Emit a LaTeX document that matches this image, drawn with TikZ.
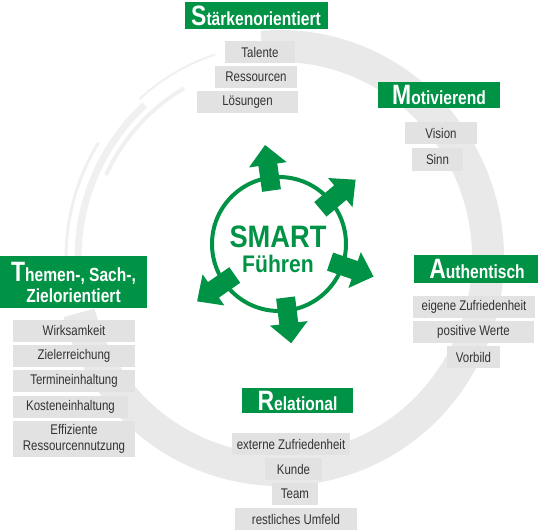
\documentclass[tikz,border=0pt]{standalone}
\usepackage{fontspec}
\setmainfont{Liberation Sans}[FakeStretch=0.82]
\newfontfamily\smartfont{Liberation Sans}[FakeStretch=0.88]
\usepackage{tikz}
\usetikzlibrary{calc}
\usetikzlibrary{arrows.meta,positioning}
\definecolor{smartgreen}{RGB}{0,146,69}
\definecolor{boxgray}{RGB}{226,226,226}
\definecolor{ringgray}{RGB}{233,233,233}
\definecolor{brushgray}{RGB}{240,240,240}
\definecolor{textgray}{RGB}{51,51,51}
\newcommand{\bigini}[1]{{\fontsize{28}{28}\selectfont #1}}

\begin{document}
\begin{tikzpicture}[x=1pt,y=-1pt,>=Stealth, every node/.style={font=\fontsize{14}{15.5}\selectfont}]
    \tikzset{item/.style={fill=boxgray,text=textgray,minimum height=22,inner sep=1pt}}
    \tikzset{banner/.style={fill=smartgreen,text=white,inner sep=2pt,font=\bfseries\fontsize{19}{21}\selectfont}}
    \tikzset{ring/.style={ringgray,line width=32}}
    \tikzset{brush/.style={brushgray,line width=3}}
    \useasboundingbox (0,0) rectangle (538,532);

    % Gray ring behind
    \draw[ring] ($(280,258)+(165:208 and 212)$) arc[start angle=165,end angle=-95,x radius=208,y radius=212];
    \draw[brush,line width=7] ($(280,258)+(176:202 and 206)$) arc[start angle=176,end angle=228,x radius=202,y radius=206];
    \draw[brush] ($(280,258)+(172:214 and 218)$) arc[start angle=172,end angle=212,x radius=214,y radius=218];
    \draw[brush,line width=4] ($(280,258)+(205:192 and 196)$) arc[start angle=205,end angle=240,x radius=192,y radius=196];
    \draw[brush,line width=2] ($(280,258)+(228:210 and 214)$) arc[start angle=228,end angle=252,x radius=210,y radius=214];

    % Center
    \node[draw=smartgreen,circle,line width=4,minimum size=134] (circ) at (279,244) {};
    \foreach \ang in {98,40,-19,-83,-145}
      \fill[smartgreen,shift={(circ.center)},rotate=\ang]
        (54,-9.5) -- (80,-9.5) -- (80,-19) -- (100,0) -- (80,19) -- (80,9.5) -- (54,9.5) -- cycle;
    \node[text=smartgreen,font=\smartfont\bfseries\fontsize{31}{31}\selectfont] (smart) at (278,237) {SMART};
    \node[text=smartgreen,font=\smartfont\bfseries\fontsize{24}{24}\selectfont] (fuehren) at (278,264) {Führen};

    % Staerkenorientiert
    \node[banner,minimum width=143,minimum height=27] (staerke) at (256,15.5) {\bigini{S}tärkenorientiert};
    \node[item,minimum width=70] (talente) at (260,52.5) {Talente};
    \node[item,minimum width=82] (ressourcen) at (256,77) {Ressourcen};
    \node[item,minimum width=101] (loesungen) at (247.5,102) {Lösungen};

    % Motivierend
    \node[banner,minimum width=122,minimum height=26] (motiv) at (439,95) {\bigini{M}otivierend};
    \node[item,minimum width=72] (vision) at (441,133.5) {Vision};
    \node[item,minimum width=51] (sinn) at (437.5,159.5) {Sinn};

    % Authentisch
    \node[banner,minimum width=126,minimum height=28] (authen) at (477,269) {\bigini{A}uthentisch};
    \node[item,minimum width=122] (eigene) at (474,306.5) {eigene Zufriedenheit};
    \node[item,minimum width=121] (werte) at (473.5,332) {positive Werte};
    \node[item,minimum width=53] (vorbild) at (473.5,357) {Vorbild};

    % Relational
    \node[banner,minimum width=111,minimum height=25] (relat) at (297.5,400.5) {\bigini{R}elational};
    \node[item,minimum width=118] (externe) at (291,444) {externe Zufriedenheit};
    \node[item,minimum width=57] (kunde) at (293.5,469) {Kunde};
    \node[item,minimum width=46] (team) at (295,494) {Team};
    \node[item,minimum width=122] (umfeld) at (296,519) {restliches Umfeld};

    % Themen
    \node[banner,minimum width=147,minimum height=52,align=center] (themen) at (73.5,282) {\bigini{T}hemen-, Sach-,\\Zielorientiert};
    \node[item,minimum width=122] (wirk) at (74,330.5) {Wirksamkeit};
    \node[item,minimum width=122] (ziel) at (74,355.5) {Zielerreichung};
    \node[item,minimum width=122] (termin) at (74,381) {Termineinhaltung};
    \node[item,minimum width=115] (kosten) at (70.5,406.5) {Kosteneinhaltung};
    \node[item,minimum width=122,minimum height=36,align=center] (effiz) at (74,439) {Effiziente\\Ressourcennutzung};
  \end{tikzpicture}
\end{document}
